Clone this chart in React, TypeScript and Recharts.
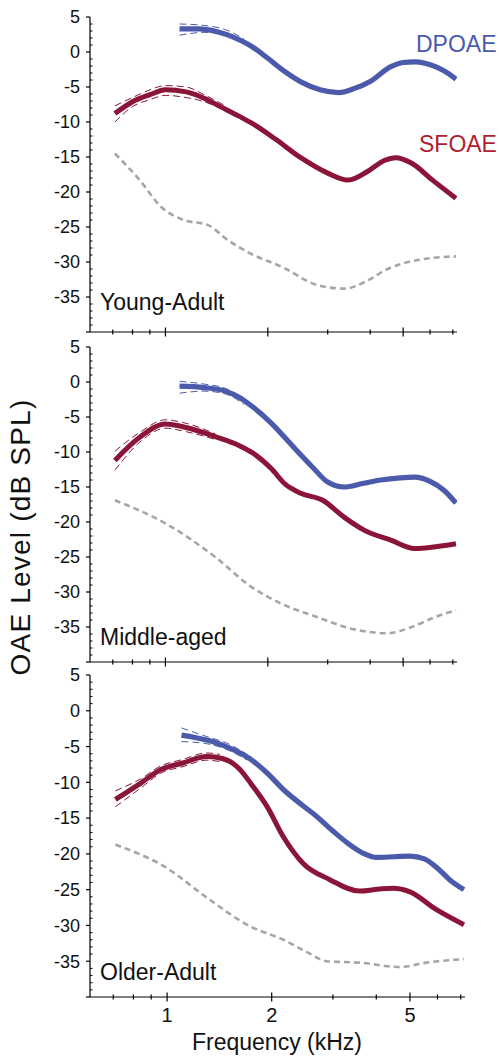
import React from 'react';
import { LineChart, Line, XAxis, YAxis } from 'recharts';

// frequencies in kHz, levels in dB SPL
const youngDpFreq = [1.1, 1.25, 1.42, 1.59, 1.78, 2.0, 2.23, 2.51, 2.85, 3.23, 3.6, 4.0, 4.6, 5.0, 5.4, 5.8, 6.3, 6.8, 7.15];
const youngDpLevel = [3.3, 3.3, 2.9, 2.1, 0.9, -0.9, -2.7, -4.3, -5.4, -5.8, -5.2, -4.2, -2.1, -1.5, -1.4, -1.6, -2.2, -3.1, -3.9];
const youngSfFreq = [0.71, 0.8, 0.9, 1.0, 1.15, 1.3, 1.45, 1.65, 1.8, 2.1, 2.5, 3.0, 3.45, 3.95, 4.4, 4.75, 5.3, 6.1, 7.15];
const youngSfLevel = [-8.8, -7.1, -6.1, -5.4, -5.7, -6.6, -7.8, -9.2, -10.2, -12.4, -15.1, -17.3, -18.3, -17.0, -15.5, -15.1, -15.9, -18.3, -20.9];
const youngNoiseFreq = [0.71, 0.84, 0.97, 1.13, 1.33, 1.53, 1.78, 2.2, 2.8, 3.35, 3.95, 4.5, 5.0, 5.9, 7.15];
const youngNoiseLevel = [-14.5, -18.3, -22.1, -24.0, -24.7, -26.9, -28.8, -30.7, -33.3, -33.8, -32.6, -31.0, -30.2, -29.5, -29.2];

const middleDpFreq = [1.1, 1.3, 1.5, 1.65, 1.8, 2.05, 2.35, 2.7, 3.0, 3.35, 3.8, 4.3, 4.9, 5.4, 6.0, 6.6, 7.15];
const middleDpLevel = [-0.6, -0.8, -1.3, -2.2, -3.5, -5.9, -9.0, -12.1, -14.3, -15.0, -14.5, -14.0, -13.7, -13.6, -14.2, -15.5, -17.3];
const middleSfFreq = [0.71, 0.84, 1.0, 1.15, 1.4, 1.65, 1.8, 2.05, 2.25, 2.5, 2.9, 3.35, 3.85, 4.6, 5.4, 6.3, 7.15];
const middleSfLevel = [-11.2, -7.9, -6.0, -6.5, -7.8, -9.1, -10.1, -12.4, -14.6, -15.9, -16.9, -19.3, -21.2, -22.6, -23.8, -23.5, -23.1];
const middleNoiseFreq = [0.71, 1.0, 1.4, 1.78, 2.2, 2.8, 3.5, 4.5, 5.3, 6.2, 7.15];
const middleNoiseLevel = [-16.9, -20.2, -25.0, -29.2, -31.7, -33.6, -35.2, -35.9, -35.0, -33.6, -32.6];

const olderDpFreq = [1.1, 1.3, 1.48, 1.73, 1.95, 2.16, 2.45, 2.7, 3.0, 3.35, 3.7, 4.0, 4.5, 5.0, 5.5, 6.0, 6.5, 7.15];
const olderDpLevel = [-3.4, -4.1, -5.0, -6.7, -8.8, -11.0, -13.2, -14.8, -16.8, -18.7, -20.0, -20.5, -20.4, -20.3, -20.7, -22.0, -23.6, -25.0];
const olderSfFreq = [0.71, 0.84, 0.96, 1.11, 1.3, 1.45, 1.62, 1.75, 1.94, 2.16, 2.46, 2.94, 3.58, 4.1, 4.47, 5.0, 5.96, 7.15];
const olderSfLevel = [-12.4, -10.1, -8.2, -7.3, -6.4, -6.7, -8.2, -10.3, -13.4, -17.6, -21.3, -23.6, -25.2, -24.9, -24.8, -25.3, -27.8, -29.9];
const olderNoiseFreq = [0.71, 1.0, 1.3, 1.73, 2.16, 2.5, 2.88, 3.58, 4.67, 5.57, 7.15];
const olderNoiseLevel = [-18.7, -22.0, -26.1, -30.1, -32.0, -33.6, -35.0, -35.2, -35.8, -35.2, -34.7];

// confidence bounds, only visible near the start of each curve
const youngDpCiFreq = [1.1, 1.3, 1.5, 1.7];
const youngDpUpper = [4.0, 3.8, 3.2, 1.9];
const youngDpLower = [2.4, 2.8, 2.5, 1.5];
const youngSfCiFreq = [0.71, 0.8, 0.9, 1.0, 1.15, 1.3, 1.5];
const youngSfUpper = [-7.7, -6.5, -5.4, -4.8, -5.0, -6.1, -7.7];
const youngSfLower = [-10.0, -7.8, -6.8, -6.2, -6.5, -7.1, -8.4];
const middleDpCiFreq = [1.1, 1.3, 1.5, 1.7];
const middleDpUpper = [0.1, -0.3, -0.9, -2.4];
const middleDpLower = [-1.6, -1.3, -1.7, -3.2];
const middleSfCiFreq = [0.71, 0.84, 1.0, 1.15, 1.4];
const middleSfUpper = [-9.9, -7.2, -5.4, -5.9, -7.4];
const middleSfLower = [-12.6, -8.6, -6.6, -7.1, -8.2];
const olderDpCiFreq = [1.1, 1.3, 1.5, 1.7];
const olderDpUpper = [-2.4, -3.6, -4.6, -6.1];
const olderDpLower = [-4.3, -4.6, -5.5, -6.9];
const olderSfCiFreq = [0.71, 0.84, 0.96, 1.11, 1.3, 1.42];
const olderSfUpper = [-11.2, -9.5, -7.7, -6.8, -5.9, -6.1];
const olderSfLower = [-13.4, -10.8, -8.7, -7.8, -6.9, -7.1];

const xTicks = [0.7, 0.8, 0.9, 1, 2, 3, 4, 5, 6, 7];
const xLabelled = [1, 2, 5];
const yLabelled = [5, 0, -5, -10, -15, -20, -25, -30, -35];
const yTicks = Array.from({ length: 46 }, (_, i) => 5 - i);

const DP_COLOR = '#4b5aaa';
const SF_COLOR = '#8a1538';
const NOISE_COLOR = '#a6a6a6';
const FONT = '"Liberation Sans", Arial, Helvetica, sans-serif';

const pts = (freq: number[], level: number[]) => freq.map((f, i) => ({ f, v: level[i] }));

const YTick = (props: any) => {
  const { x, y, payload } = props;
  const major = payload.value % 5 === 0;
  return (
    <g>
      {major ? (
        <line x1={x - 4} x2={x} y1={y} y2={y} stroke="#000" strokeWidth={1.2} />
      ) : (
        <line x1={x} x2={x + 2.5} y1={y} y2={y} stroke="#000" strokeWidth={1} />
      )}
      {yLabelled.includes(payload.value) && (
        <text x={x - 10} y={y} dy="0.35em" textAnchor="end" fontSize={18} fontFamily={FONT} fill="#111">
          {payload.value}
        </text>
      )}
    </g>
  );
};

const makeXTick = (showLabels: boolean) => (props: any) => {
  const { x, y, payload } = props;
  const major = xLabelled.includes(payload.value);
  const h = major ? 4.5 : 2.5;
  return (
    <g>
      <line x1={x} x2={x} y1={y - h} y2={y + h} stroke="#000" strokeWidth={1.2} />
      {showLabels && major && (
        <text x={x} y={y + 25} textAnchor="middle" fontSize={20} fontFamily={FONT} fill="#111">
          {payload.value}
        </text>
      )}
    </g>
  );
};

interface PanelProps {
  top: number;
  height: number;
  marginTop: number;
  marginRight: number;
  xAxisHeight: number;
  showXLabels: boolean;
  dp: { f: number; v: number }[];
  sf: { f: number; v: number }[];
  noise: { f: number; v: number }[];
  ci: { data: { f: number; v: number }[]; color: string }[];
}

const Panel: React.FC<PanelProps> = ({ top, height, marginTop, marginRight, xAxisHeight, showXLabels, dp, sf, noise, ci }) => (
  <div style={{ position: 'absolute', left: 0, top }}>
    <LineChart width={499} height={height} margin={{ top: marginTop, right: marginRight, left: 0, bottom: 0 }}>
      <XAxis
        dataKey="f"
        type="number"
        scale="log"
        domain={[0.6, 7.2]}
        allowDataOverflow
        ticks={xTicks}
        interval={0}
        tickSize={0}
        tickMargin={0}
        tickLine={false}
        height={xAxisHeight}
        axisLine={{ stroke: '#000', strokeWidth: 1.2 }}
        tick={makeXTick(showXLabels)}
      />
      <YAxis
        type="number"
        domain={[-40, 5]}
        allowDataOverflow
        ticks={yTicks}
        interval={0}
        tickSize={0}
        tickMargin={0}
        tickLine={false}
        width={90}
        axisLine={{ stroke: '#000', strokeWidth: 1.2 }}
        tick={YTick}
      />
      <Line data={noise} dataKey="v" type="monotone" stroke={NOISE_COLOR} strokeWidth={2.6} strokeDasharray="6 4" dot={false} isAnimationActive={false} />
      <Line data={sf} dataKey="v" type="monotone" stroke={SF_COLOR} strokeWidth={5} dot={false} isAnimationActive={false} />
      <Line data={dp} dataKey="v" type="monotone" stroke={DP_COLOR} strokeWidth={5.2} dot={false} isAnimationActive={false} />
      {ci.map((c, i) => (
        <Line key={i} data={c.data} dataKey="v" type="monotone" stroke={c.color} strokeWidth={1} strokeDasharray="7 4" dot={false} isAnimationActive={false} />
      ))}
    </LineChart>
  </div>
);

export default function App() {
  return (
    <div style={{ position: 'absolute', left: 0, top: 0, width: 499, height: 1056, background: '#fff', fontFamily: FONT }}>
      <Panel
        top={0}
        height={340}
        marginTop={17}
        marginRight={42}
        xAxisHeight={8}
        showXLabels={false}
        dp={pts(youngDpFreq, youngDpLevel)}
        sf={pts(youngSfFreq, youngSfLevel)}
        noise={pts(youngNoiseFreq, youngNoiseLevel)}
        ci={[
          { data: pts(youngDpCiFreq, youngDpUpper), color: DP_COLOR },
          { data: pts(youngDpCiFreq, youngDpLower), color: DP_COLOR },
          { data: pts(youngSfCiFreq, youngSfUpper), color: SF_COLOR },
          { data: pts(youngSfCiFreq, youngSfLower), color: SF_COLOR },
        ]}
      />
      <Panel
        top={330}
        height={340}
        marginTop={17}
        marginRight={42}
        xAxisHeight={8}
        showXLabels={false}
        dp={pts(middleDpFreq, middleDpLevel)}
        sf={pts(middleSfFreq, middleSfLevel)}
        noise={pts(middleNoiseFreq, middleNoiseLevel)}
        ci={[
          { data: pts(middleDpCiFreq, middleDpUpper), color: DP_COLOR },
          { data: pts(middleDpCiFreq, middleDpLower), color: DP_COLOR },
          { data: pts(middleSfCiFreq, middleSfUpper), color: SF_COLOR },
          { data: pts(middleSfCiFreq, middleSfLower), color: SF_COLOR },
        ]}
      />
      <Panel
        top={660}
        height={396}
        marginTop={15}
        marginRight={34}
        xAxisHeight={59}
        showXLabels={true}
        dp={pts(olderDpFreq, olderDpLevel)}
        sf={pts(olderSfFreq, olderSfLevel)}
        noise={pts(olderNoiseFreq, olderNoiseLevel)}
        ci={[
          { data: pts(olderDpCiFreq, olderDpUpper), color: DP_COLOR },
          { data: pts(olderDpCiFreq, olderDpLower), color: DP_COLOR },
          { data: pts(olderSfCiFreq, olderSfUpper), color: SF_COLOR },
          { data: pts(olderSfCiFreq, olderSfLower), color: SF_COLOR },
        ]}
      />
      <svg width={499} height={1056} style={{ position: 'absolute', left: 0, top: 0, pointerEvents: 'none' }}>
        <text x={416} y={52} fontSize={23} fontFamily={FONT} fill="#4a5aad">DPOAE</text>
        <text x={419} y={152} fontSize={23} fontFamily={FONT} fill="#b01e32">SFOAE</text>
        <text x={100} y={310} fontSize={23} fontFamily={FONT} fill="#111">Young-Adult</text>
        <text x={100} y={645} fontSize={23} fontFamily={FONT} fill="#111">Middle-aged</text>
        <text x={100} y={980} fontSize={23} fontFamily={FONT} fill="#111">Older-Adult</text>
        <text x={277} y={1050} fontSize={23} fontFamily={FONT} fill="#111" textAnchor="middle">Frequency (kHz)</text>
        <text x={30} y={537} fontSize={28} fontFamily={FONT} fill="#111" textAnchor="middle" letterSpacing={1.2} transform="rotate(-90 30 537)">
          OAE Level (dB SPL)
        </text>
      </svg>
    </div>
  );
}
